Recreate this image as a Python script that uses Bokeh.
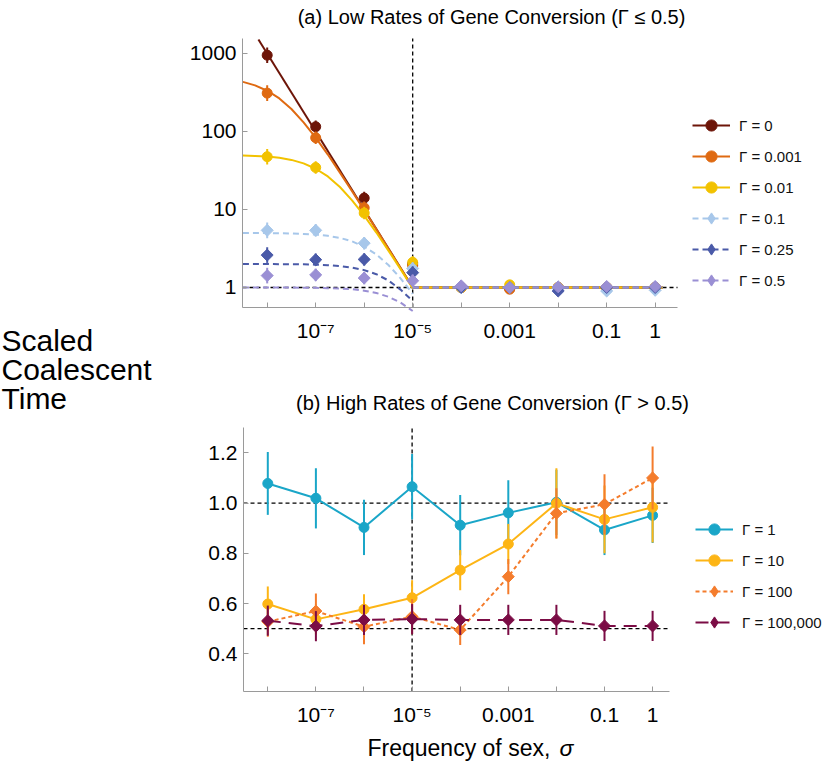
import numpy as np
from bokeh.plotting import figure
from bokeh.models import Label, Legend, LegendItem, FixedTicker, Range1d
from bokeh.layouts import column
from bokeh.embed import file_html
from bokeh.resources import INLINE

FONT = "Liberation Sans"

# ---------------- data ----------------
sigma = [1e-8, 1e-7, 1e-6, 1e-5, 1e-4, 1e-3, 1e-2, 1e-1, 1.0]

# (a) low gene-conversion rates: simulated points
low_labels = ["Γ = 0", "Γ = 0.001", "Γ = 0.01", "Γ = 0.1", "Γ = 0.25", "Γ = 0.5"]
low_g0 = [950, 115, 14.0, 2.0, 1.0, 0.97, 1.0, 1.0, 1.0]
low_g0001 = [310, 83, 10.5, 1.9, 1.0, 0.95, 1.0, 1.0, 1.0]
low_g001 = [47.5, 34.5, 9.0, 2.1, 1.0, 1.08, 1.0, 1.0, 1.0]
low_g01 = [5.4, 5.4, 3.7, 1.75, 1.0, 1.0, 0.97, 0.9, 0.92]
low_g025 = [2.6, 2.27, 2.29, 1.55, 1.0, 1.0, 0.9, 1.0, 1.0]
low_g05 = [1.42, 1.45, 1.32, 1.22, 1.05, 1.0, 1.02, 1.03, 1.03]
# error half-width, in decades
low_err = [0.1, 0.08, 0.08, 0.08, 0.02, 0.02, 0.02, 0.02, 0.02]

curve_sigma = [3.16e-9, 5.62e-9, 1e-8, 1.78e-8, 3.16e-8, 5.62e-8, 1e-7, 1.78e-7,
               3.16e-7, 5.62e-7, 1e-6, 1.78e-6, 3.16e-6, 5.62e-6, 1e-5]
curve_g0001 = [432, 390, 333, 265, 194, 131, 83.3, 50.6, 29.7, 17.2, 9.8, 5.56, 3.14, 1.77, 1.0]
curve_g001 = [49.2, 48.6, 47.6, 45.9, 43.2, 39.0, 33.3, 26.5, 19.4, 13.1, 8.33, 5.06, 2.97, 1.72, 0.98]
curve_g01 = [4.99, 4.99, 4.98, 4.96, 4.92, 4.86, 4.76, 4.59, 4.32, 3.9, 3.33, 2.65, 1.94, 1.31, 0.83]
curve_g025 = [2.0, 2.0, 2.0, 1.99, 1.99, 1.98, 1.96, 1.93, 1.88, 1.8, 1.67, 1.48, 1.23, 0.94, 0.67]
curve_g05 = [1.0, 1.0, 1.0, 1.0, 1.0, 0.99, 0.99, 0.98, 0.97, 0.95, 0.91, 0.85, 0.76, 0.64, 0.5]
# Γ = 0 curve is a straight line on the log-log axes (enters at the top edge)
curve_g0_sigma = [6.6e-9, 1e-5]
curve_g0 = [1514, 1.0]
flat_sigma = [1e-5, 1.45]
flat_value = [1.0, 1.0]

# (b) high gene-conversion rates
high_labels = ["Γ = 1", "Γ = 10", "Γ = 100", "Γ = 100,000"]
high_g1 = [1.078, 1.019, 0.903, 1.065, 0.912, 0.961, 1.003, 0.893, 0.951]
high_g1_err = [0.125, 0.12, 0.11, 0.13, 0.12, 0.13, 0.13, 0.10, 0.11]
high_g10 = [0.598, 0.537, 0.577, 0.623, 0.733, 0.837, 0.999, 0.935, 0.983]
high_g10_err = [0.07, 0.06, 0.06, 0.07, 0.08, 0.08, 0.14, 0.135, 0.14]
high_g100 = [0.528, 0.570, 0.508, 0.548, 0.495, 0.707, 0.959, 0.995, 1.10]
high_g100_err = [0.06, 0.07, 0.07, 0.07, 0.06, 0.07, 0.10, 0.12, 0.125]
high_g1e5 = [0.532, 0.510, 0.535, 0.538, 0.535, 0.535, 0.535, 0.511, 0.511]
high_g1e5_err = [0.06, 0.06, 0.06, 0.06, 0.06, 0.06, 0.06, 0.06, 0.06]

x_labels = {1e-8: "", 1e-7: "10⁻⁷", 1e-6: "", 1e-5: "10⁻⁵", 1e-4: "",
            1e-3: "0.001", 1e-2: "", 1e-1: "0.1", 1.0: "1"}
y_top_ticks = [1, 10, 100, 1000]
y_bot_ticks = [0.4, 0.6, 0.8, 1.0, 1.2]
ref_sigma = 1e-5          # vertical reference line
ref_top = [1.0]           # horizontal reference lines, panel (a)
ref_bot = [1.0, 0.5]      # horizontal reference lines, panel (b)

low_colors = ["#6D1508", "#DF6A12", "#F2C200", "#A7C7EA", "#4A5AA8", "#9A8FD4"]
high_colors = ["#1AA6C8", "#FDB515", "#F47C2C", "#7B0C45"]

# ---------------- geometry (frame fills each canvas; axes placed inside) ----------------
W = 827
H1, H2 = 416, 357
# panel (a) plot box
A_X0, A_X1 = 10 ** -8.509, 10 ** 0.460
A_Y0, A_Y1 = 10 ** -0.2564, 10 ** 3.192
# panel (b) plot box
B_X0, B_X1 = 10 ** -8.505, 10 ** 0.351
B_Y0, B_Y1 = 0.25, 1.3007

DASH_REF = dict(line_color="black", line_dash="4 3", line_width=1.3)


def style_axes(p, xloc, xb, yloc, yb):
    for ax in (p.xaxis[0], p.yaxis[0]):
        ax.axis_line_color = "#9a9a9a"
        ax.axis_line_width = 1
        ax.major_tick_line_color = "#9a9a9a"
        ax.major_tick_in = 5
        ax.major_tick_out = 0
        ax.minor_tick_line_color = None
        ax.major_label_text_font = FONT
        ax.major_label_text_font_size = "21px"
        ax.major_label_text_color = "black"
    p.xaxis[0].fixed_location = xloc
    p.xaxis[0].bounds = xb
    p.yaxis[0].fixed_location = yloc
    p.yaxis[0].bounds = yb
    p.xaxis[0].major_label_standoff = 12
    p.yaxis[0].major_label_standoff = 6
    p.xgrid.visible = False
    p.ygrid.visible = False
    p.outline_line_color = None


def text_label(p, x, y, text, size, align="left", style="normal"):
    p.add_layout(Label(x=x, y=y, x_units="screen", y_units="screen", text=text,
                       text_align=align, text_baseline="middle", text_font=FONT,
                       text_font_size=size, text_font_style=style, text_color="black"))


def make_legend(items, loc):
    return Legend(items=items, location=loc, padding=0, margin=0,
                  glyph_width=38, glyph_height=28, label_height=28, spacing=3,
                  label_standoff=9, label_text_font=FONT, label_text_font_size="15px",
                  label_text_color="#111111", border_line_alpha=0, background_fill_alpha=0)


# ---------------- panel (a) ----------------
p1 = figure(width=W, height=H1, x_axis_type="log", y_axis_type="log",
            x_range=Range1d(10 ** -13.499, 10 ** 3.553), y_range=Range1d(10 ** -1.654, 10 ** 3.679),
            output_backend="svg", toolbar_location=None, min_border=0)
style_axes(p1, A_Y0, (A_X0, A_X1), A_X0, (A_Y0, A_Y1))
p1.xaxis[0].ticker = FixedTicker(ticks=sigma, minor_ticks=[])
p1.xaxis[0].major_label_overrides = x_labels
p1.yaxis[0].ticker = FixedTicker(ticks=y_top_ticks, minor_ticks=[])
p1.yaxis[0].major_label_overrides = {t: str(t) for t in y_top_ticks}

p1.segment([ref_sigma], [A_Y0], [ref_sigma], [A_Y1], **DASH_REF)
p1.segment([A_X0] * len(ref_top), ref_top, [A_X1] * len(ref_top), ref_top, **DASH_REF)

low_values = [low_g0, low_g0001, low_g001, low_g01, low_g025, low_g05]
low_curve_x = [curve_g0_sigma] + [curve_sigma] * 5
low_curves = [curve_g0, curve_g0001, curve_g001, curve_g01, curve_g025, curve_g05]
low_items = []
for i, (vals, cx, curve, col, lab) in enumerate(zip(low_values, low_curve_x, low_curves, low_colors, low_labels)):
    dashed = i >= 3
    dash = "6 4" if dashed else "solid"
    cl = p1.line(cx, curve, line_color=col, line_width=2, line_dash=dash)
    p1.line(flat_sigma, flat_value, line_color=col, line_width=2, line_dash=dash)
    lo = [v / 10 ** e for v, e in zip(vals, low_err)]
    hi = [v * 10 ** e for v, e in zip(vals, low_err)]
    p1.segment(sigma, lo, sigma, hi, line_color=col, line_width=2)
    if dashed:
        p1.scatter(sigma, vals, marker="square", angle=np.pi / 4, size=8.5,
                   fill_color=col, line_color=col)
        # legend key only (kept outside the visible area)
        key = p1.scatter([1e-30], [1.0], marker="diamond", size=16, fill_color=col, line_color=col)
    else:
        key = p1.scatter(sigma, vals, marker="circle", size=10, fill_color=col, line_color=col)
    low_items.append(LegendItem(label=lab, renderers=[cl, key]))

p1.add_layout(make_legend(low_items, (692, H1 - 294)), "center")

text_label(p1, 491, H1 - 16, "(a) Low Rates of Gene Conversion (Γ ≤ 0.5)", "20px", align="center")
for k, t in enumerate(["Scaled", "Coalescent", "Time"]):
    text_label(p1, 1, H1 - (340 + 29 * k), t, "30px")
text_label(p1, 492, H1 - 402, "(b) High Rates of Gene Conversion (Γ > 0.5)", "20px", align="center")

# ---------------- panel (b) ----------------
p2 = figure(width=W, height=H2, x_axis_type="log",
            x_range=Range1d(10 ** -13.557, 10 ** 3.636), y_range=Range1d(-0.0764, 1.3445),
            output_backend="svg", toolbar_location=None, min_border=0)
style_axes(p2, B_Y0, (B_X0, B_X1), B_X0, (B_Y0, B_Y1))
p2.xaxis[0].ticker = FixedTicker(ticks=sigma, minor_ticks=[])
p2.xaxis[0].major_label_overrides = x_labels
p2.yaxis[0].ticker = FixedTicker(ticks=y_bot_ticks, minor_ticks=[])
p2.yaxis[0].major_label_overrides = {t: "%.1f" % t for t in y_bot_ticks}

p2.segment([ref_sigma], [B_Y0], [ref_sigma], [B_Y1], **DASH_REF)
p2.segment([B_X0] * len(ref_bot), ref_bot, [B_X1] * len(ref_bot), ref_bot, **DASH_REF)

high_values = [high_g1, high_g10, high_g100, high_g1e5]
high_errs = [high_g1_err, high_g10_err, high_g100_err, high_g1e5_err]
high_dash = ["solid", "solid", "4 3", "13 8"]
high_items = []
for i, (vals, err, col, lab, dash) in enumerate(zip(high_values, high_errs, high_colors, high_labels, high_dash)):
    lo = [v - e for v, e in zip(vals, err)]
    hi = [v + e for v, e in zip(vals, err)]
    p2.segment(sigma, lo, sigma, hi, line_color=col, line_width=2)
    ln = p2.line(sigma, vals, line_color=col, line_width=2, line_dash=dash)
    if i >= 2:
        p2.scatter(sigma, vals, marker="square", angle=np.pi / 4, size=8.5,
                   fill_color=col, line_color=col)
        key = p2.scatter([1e-30], [1.0], marker="diamond", size=16, fill_color=col, line_color=col)
    else:
        key = p2.scatter(sigma, vals, marker="circle", size=10, fill_color=col, line_color=col)
    high_items.append(LegendItem(label=lab, renderers=[ln, key]))

p2.add_layout(make_legend(high_items, (695, H2 - (636 - H1))), "center")

text_label(p2, 367, H2 - (747 - H1), "Frequency of sex,", "23px")
text_label(p2, 559, H2 - (747 - H1), "σ", "23px", style="italic")

page = column(p1, p2, spacing=0)
open("out.html", "w").write(file_html(page, INLINE))
